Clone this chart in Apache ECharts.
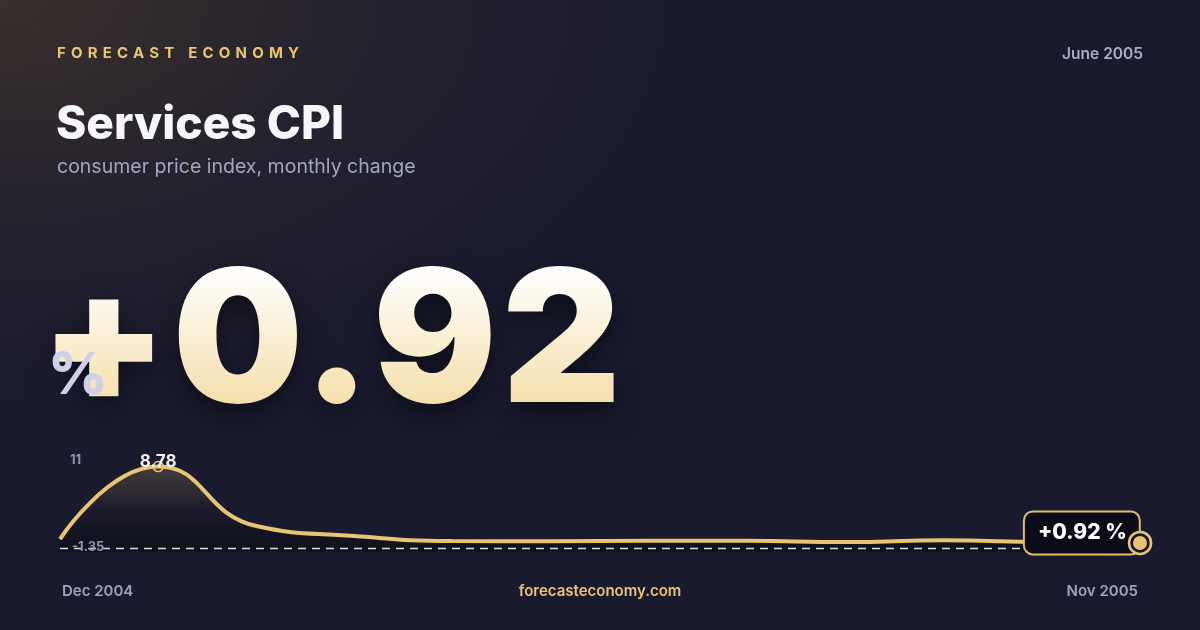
<!DOCTYPE html>
<html>
<head>
<meta charset="utf-8">
<script src="https://cdn.jsdelivr.net/npm/echarts@6/dist/echarts.min.js"></script>
<style>
  html, body { margin: 0; padding: 0; }
  #wrap {
    position: relative; width: 1200px; height: 630px; overflow: hidden;
    background: radial-gradient(ellipse 75% 85% at 0% 0%, #3a302c 0%, #25222e 40%, #1a1b2f 75%, #191a2e 100%);
  }
  #chart { position: absolute; left: 0; top: 0; width: 1200px; height: 630px; }
  .brand {
    position: absolute; left: 57px; top: 43px; line-height: 18px;
    font: 700 15px Inter, sans-serif; letter-spacing: 5.2px; color: #e8c572;
  }
  .big {
    position: absolute; left: 40px; top: 224px; line-height: 184px; white-space: nowrap;
    font: 900 184px Inter, sans-serif; letter-spacing: 5px;
    background: linear-gradient(180deg, #ffffff 20%, #f3d99c 92%);
    -webkit-background-clip: text; background-clip: text; color: transparent;
    filter: drop-shadow(0 10px 14px rgba(0,0,0,0.5));
  }
  .pct {
    position: absolute; left: 48px; top: 338px; line-height: 58px;
    font: 800 58px Inter, sans-serif; color: #cdd0e8;
  }
</style>
</head>
<body>
<div id="wrap">
  <div id="chart"></div>
  <div class="brand">FORECAST ECONOMY</div>
  <div class="big" id="big"></div>
  <div class="pct">%</div>
</div>
<script>
// data
const months = ['Dec 2004', 'Jan 2005', 'Feb 2005', 'Mar 2005', 'Apr 2005', 'May 2005',
  'Jun 2005', 'Jul 2005', 'Aug 2005', 'Sep 2005', 'Oct 2005', 'Nov 2005'];
const cpiChange = [1.32, 8.78, 2.66, 1.63, 1.12, 1.09, 1.14, 1.15, 1.01, 1.19, 1.0, 0.92];
const yTickLabels = ['11', '-1.35'];
const headline = '+0.92';
const reportMonth = 'June 2005';

document.getElementById('big').textContent = headline;

const gold = '#e8c572';
const last = cpiChange.length - 1;
const peakIdx = cpiChange.indexOf(Math.max(...cpiChange));
const lastPoint = [[last, cpiChange[last]]];

const chart = echarts.init(document.getElementById('chart'));

const lineData = cpiChange.map((v, i) => {
  if (i === peakIdx) {
    return {
      value: v,
      symbol: 'circle', symbolSize: 10,
      itemStyle: { color: 'rgba(0,0,0,0)', borderColor: gold, borderWidth: 1.5 },
      label: {
        show: true, position: 'inside', offset: [0, -5],
        formatter: v.toFixed(2), color: '#f4f1ea',
        fontFamily: 'Inter', fontWeight: 700, fontSize: 17
      }
    };
  }
  return { value: v, symbol: 'none' };
});

chart.setOption({
  backgroundColor: 'transparent',
  animation: false,
  grid: { left: 60, right: 60, top: 445, bottom: 65 },
  xAxis: { type: 'category', data: months, boundaryGap: false, show: false },
  yAxis: {
    type: 'value', show: false,
    min: Number(yTickLabels[1]), max: Number(yTickLabels[0])
  },
  graphic: [
    { type: 'text', right: 57, top: 46, style: {
      text: reportMonth, fill: '#a9acc8', font: '600 15.5px Inter' } },
    { type: 'text', left: 56, top: 102, style: {
      text: 'Services CPI', fill: '#f7f7fb', font: '800 46px Inter' } },
    { type: 'text', left: 57, top: 157, style: {
      text: 'consumer price index, monthly change', fill: '#a3a6c2', font: '400 19.5px Inter' } },
    { type: 'line', z: 3, shape: { x1: 60, y1: 548.5, x2: 1140, y2: 548.5 }, style: {
      stroke: 'rgba(255,255,255,0.85)', lineWidth: 1.4, lineDash: [8, 6] } },
    { type: 'text', x: 70, y: 454, z: 4, style: {
      text: yTickLabels[0], fill: '#8f93b4', font: '700 13px Inter' } },
    { type: 'text', x: 72, y: 541, z: 4, style: {
      text: yTickLabels[1], fill: '#8f93b4', font: '700 13px Inter' } },
    { type: 'text', left: 62, top: 584, style: {
      text: months[0], fill: '#9fa3c0', font: '600 15px Inter' } },
    { type: 'text', left: 'center', top: 584, style: {
      text: 'forecasteconomy.com', fill: gold, font: '600 15px Inter' } },
    { type: 'text', right: 62, top: 584, style: {
      text: months[last], fill: '#9fa3c0', font: '600 15px Inter' } }
  ],
  series: [
    {
      type: 'line', data: lineData, smooth: 0.5, z: 2,
      lineStyle: { color: gold, width: 4 },
      areaStyle: {
        color: new echarts.graphic.LinearGradient(0, 0, 0, 1, [
          { offset: 0, color: 'rgba(232,197,114,0.27)' },
          { offset: 0.5, color: 'rgba(40,34,40,0.35)' },
          { offset: 0.72, color: 'rgba(14,14,22,0.55)' },
          { offset: 1, color: 'rgba(10,10,18,0.85)' }])
      }
    },
    {
      // value badge on the latest point
      type: 'scatter', z: 6, symbolSize: 22, silent: true,
      data: lastPoint,
      itemStyle: { color: '#141526', borderColor: gold, borderWidth: 2.5, opacity: 1 },
      label: {
        show: true, position: 'left', distance: -11, offset: [0, -10], opacity: 1,
        formatter: '+' + cpiChange[last].toFixed(2) + ' %',
        color: '#ffffff', fontFamily: 'Inter', fontWeight: 800, fontSize: 21,
        backgroundColor: '#0b0c18', borderColor: '#e2bf6a', borderWidth: 2,
        borderRadius: 8, padding: [10, 12, 10, 13]
      }
    },
    {
      // ring drawn over the badge edge
      type: 'scatter', z: 8, symbolSize: 22, silent: true,
      data: lastPoint,
      itemStyle: { color: '#141526', borderColor: gold, borderWidth: 2.5, opacity: 1 }
    },
    {
      type: 'scatter', z: 9, symbolSize: 14, silent: true,
      data: lastPoint,
      itemStyle: { color: gold, opacity: 1 }
    }
  ]
});
</script>
</body>
</html>
